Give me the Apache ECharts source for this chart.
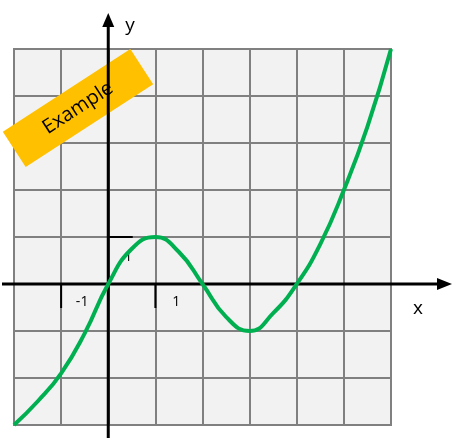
<!DOCTYPE html>
<html><head><meta charset="utf-8">
<script src="https://cdn.jsdelivr.net/npm/echarts@6/dist/echarts.min.js"></script>
<style>html,body{margin:0;padding:0;background:#fff}#c{width:465px;height:441px}</style>
</head><body><div id="c"></div>
<script>
// curve points
const xs = [-2, -1.5, -1, -0.5, 0, 0.5, 1, 1.5, 2, 2.5, 3, 3.5, 4, 4.5, 5, 5.5, 6];
const ys = [-3, -2.5, -1.9, -1.05, 0, 0.75, 1, 0.68, 0, -0.7, -1, -0.62, 0, 0.85, 2, 3.35, 5];
const tickLabels = [{v: -1, t: '-1'}, {v: 1, t: '1'}];

const chart = echarts.init(document.getElementById('c'));
const axCommon = {type: 'value', interval: 1, axisLine: {show: false}, axisTick: {show: false}, axisLabel: {show: false},
  splitLine: {lineStyle: {color: '#808080', width: 2}}};
chart.setOption({
  animation: false,
  grid: {left: 14, right: 74, top: 49, bottom: 16, show: true, backgroundColor: '#f2f2f2', borderColor: '#808080', borderWidth: 2},
  xAxis: Object.assign({min: -2, max: 6}, axCommon),
  yAxis: Object.assign({min: -3, max: 5}, axCommon),
  series: [{type: 'line', smooth: 0.5, symbol: 'none', z: 5,
    lineStyle: {color: '#00b050', width: 4},
    data: xs.map((x, i) => [x, ys[i]])}]
});

// axes with arrows, ticks and labels placed from the chart's own scale
const p = v => chart.convertToPixel({gridIndex: 0}, v);
const o = p([0, 0]), one = p([1, 1]);
const u = one[0] - o[0];
const txt = (x, y, t, size) => ({type: 'text', x: x, y: y, z: 3,
  style: {text: t, fill: '#000', fontSize: size, fontFamily: 'Open Sans', align: 'center', verticalAlign: 'middle'}});
const g = [];
g.push({type: 'line', shape: {x1: 2, y1: o[1], x2: 440, y2: o[1]}, style: {stroke: '#000', lineWidth: 3}, z: 3});
g.push({type: 'polygon', shape: {points: [[452, o[1]], [437, o[1] - 6], [437, o[1] + 6]]}, style: {fill: '#000'}, z: 3});
g.push({type: 'line', shape: {x1: o[0], y1: 438, x2: o[0], y2: 25}, style: {stroke: '#000', lineWidth: 3}, z: 3});
g.push({type: 'polygon', shape: {points: [[o[0], 13], [o[0] - 6, 27], [o[0] + 6, 27]]}, style: {fill: '#000'}, z: 3});
tickLabels.forEach(t => {
  const px = p([t.v, 0]);
  g.push({type: 'line', shape: {x1: px[0], y1: o[1], x2: px[0], y2: o[1] + 24}, style: {stroke: '#000', lineWidth: 2}, z: 3});
  g.push(txt(px[0] + 21, o[1] + 18, t.t, 14));
});
g.push({type: 'line', shape: {x1: o[0], y1: one[1], x2: o[0] + u * 0.52, y2: one[1]}, style: {stroke: '#000', lineWidth: 2}, z: 3});
g.push(txt(o[0] + 20, one[1] + 20, '1', 14));
g.push(txt(418, 309, 'x', 19));
g.push(txt(130, 26, 'y', 19));
g.push({type: 'group', x: 78, y: 108, rotation: 33 * Math.PI / 180, z: 10, children: [
  {type: 'rect', shape: {x: -76, y: -21, width: 152, height: 42}, style: {fill: '#ffc000'}},
  {type: 'text', x: 0, y: 0, style: {text: 'Example', fill: '#000', fontSize: 20, fontFamily: 'Open Sans', align: 'center', verticalAlign: 'middle'}}
]});
chart.setOption({graphic: g});
</script></body></html>
